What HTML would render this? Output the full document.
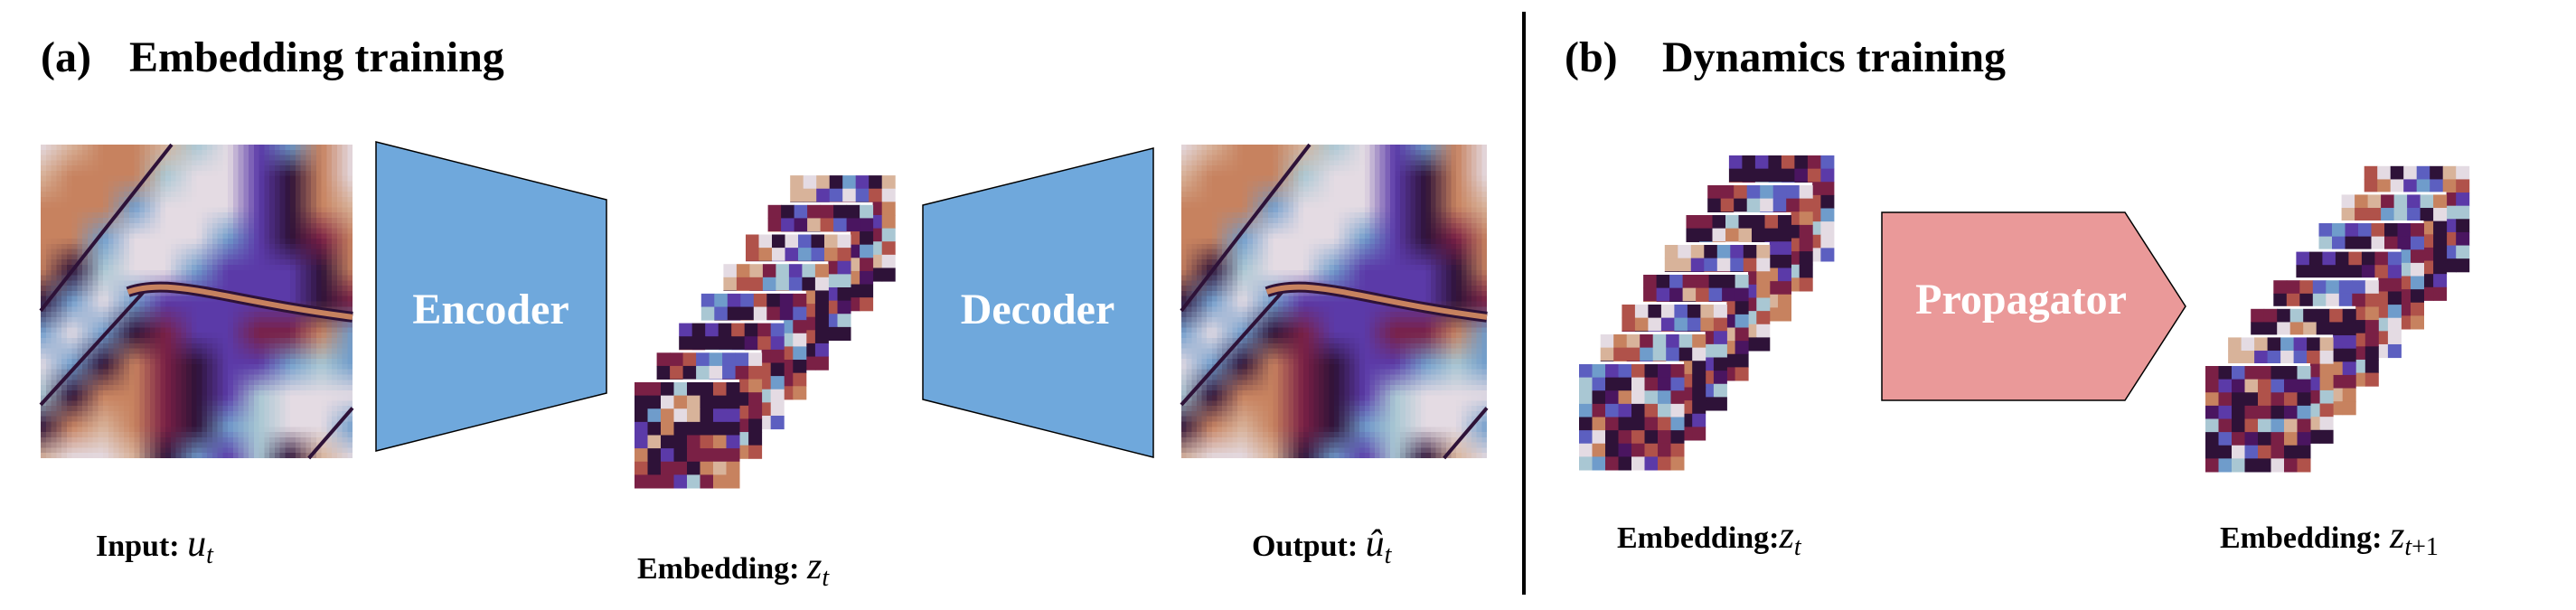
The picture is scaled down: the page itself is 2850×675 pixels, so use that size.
<!DOCTYPE html>
<html><head><meta charset="utf-8"><style>
html,body{margin:0;padding:0;background:#fff;}
#root{position:relative;width:2850px;height:675px;overflow:hidden;background:#fff;font-family:"Liberation Serif",serif;}
canvas.field{position:absolute;image-rendering:pixelated;}
svg{position:absolute;left:0;top:0;}
</style></head><body>
<div id="root">
<canvas id="fieldIn" class="field" width="60" height="60" style="left:45px;top:160px;width:345px;height:347px"></canvas>
<canvas id="fieldOut" class="field" width="60" height="60" style="left:1307px;top:160px;width:338px;height:347px"></canvas>
<svg id="svg" width="2850" height="675" xmlns="http://www.w3.org/2000/svg">
  <g id="overlays"></g>
  <text x="45" y="79" font-size="48" font-weight="bold">(a)</text>
  <text x="143" y="79" font-size="48" font-weight="bold">Embedding training</text>
  <text x="1731" y="79" font-size="48" font-weight="bold">(b)</text>
  <text x="1839" y="79" font-size="48" font-weight="bold">Dynamics training</text>
  <polygon points="416,157 671,221 671,435 416,499" fill="#6fa8dc" stroke="#000" stroke-width="1.5"/>
  <text x="543" y="358" font-size="48" font-weight="bold" fill="#fff" text-anchor="middle">Encoder</text>
  <polygon points="1021,227 1276,164 1276,506 1021,442" fill="#6fa8dc" stroke="#000" stroke-width="1.5"/>
  <text x="1148" y="358" font-size="48" font-weight="bold" fill="#fff" text-anchor="middle">Decoder</text>
  <line x1="1686" y1="13" x2="1686" y2="658" stroke="#000" stroke-width="4"/>
  <polygon points="2082,235 2351,235 2418,339 2351,443 2082,443" fill="#ea9999" stroke="#000" stroke-width="1.5"/>
  <text x="2236" y="347" font-size="48" font-weight="bold" fill="#fff" text-anchor="middle">Propagator</text>
  <g id="stacks"></g>
  <text x="106" y="615" font-size="34" font-weight="bold">Input: <tspan font-size="42" font-weight="normal" font-style="italic">u</tspan><tspan font-size="28" font-weight="normal" font-style="italic" dy="8">t</tspan></text>
  <text x="705" y="640" font-size="34" font-weight="bold">Embedding: <tspan font-size="42" font-weight="normal" font-style="italic">z</tspan><tspan font-size="28" font-weight="normal" font-style="italic" dy="8">t</tspan></text>
  <text x="1385" y="615" font-size="34" font-weight="bold">Output: <tspan font-size="42" font-weight="normal" font-style="italic">û</tspan><tspan font-size="28" font-weight="normal" font-style="italic" dy="8">t</tspan></text>
  <text x="1789" y="606" font-size="34" font-weight="bold">Embedding:<tspan font-size="42" font-weight="normal" font-style="italic">z</tspan><tspan font-size="28" font-weight="normal" font-style="italic" dy="8">t</tspan></text>
  <text x="2456" y="606" font-size="34" font-weight="bold">Embedding: <tspan font-size="42" font-weight="normal" font-style="italic">z</tspan><tspan font-size="28" font-weight="normal" font-style="italic" dy="8">t</tspan><tspan font-size="28" font-weight="normal" font-style="normal">+1</tspan></text>
</svg>
</div>
<script>
const palette = {D:"#2e1238",M:"#7a2045",R:"#b0524a",O:"#c7825f",L:"#d8b39a",W:"#e4dbe3",b:"#a9c7d3",B:"#6f9ccb",P:"#5b3aa8",I:"#5c5fc0",K:"#4a1560"};
const fieldRows = [
  "WLOOLbWPBOW",
  "LOOObWWPDOW",
  "OOOBWWWPDOL",
  "OOBWWWBPDMO",
  "ODbWWBPPPDO",
  "DBWBPPPPPDM",
  "BWBDMPPMMOB",
  "WBDOMDPPBbB",
  "bDOOMDPbWWW",
  "DOLOMDBbWWB",
  "LWWLDBPbDLW"
];
const cardPatterns = [
  "MMDbDDRDDDWOLDDDDBOWLDPPPDODDDDDPLDDMROPODPDMMMMRDMMDOLOMMMPbMOO",
  "MMRIBIIWDRDbWIMRDDWbIMRODMDDPRDMIbMDDMRMbWRODbMDMROWOMbDDMMRDOOR",
  "PDPDRDMIDDDDDKRPRMbBIDMMMDPMDRRDbPIDOWRBMBDWRMbWIDMDDRRWbOMbPDWI",
  "IBPIRDKMbIDDWMKIbDKOWbBMBMIPDRbWDOMDDMRBIWDMRDMDWODKMRMRbBMDWPRO",
  "WOLMbPbOLRRBbIDWDOMPRbODMMDRbDRDBRIMDOMDbRWOPMRDbDDMDBDPMRLODRMM",
  "RWDWIDLWROWPBIORMDPRKDMPDOMMRPbbBDIPDLPDMIDBWDRKMDOMDKIbLPRDDRDD",
  "MDIMMDDbMPKLRIKKOMDDRMRDKPDMMDKBbMDRbBLMDIMKDMOKDDWIRMDDMBbDDWMR",
  "LWLDBPDLLLPIWIRWDDKRMDMOMBDBRMPOPRMDIMMbMKIDRWbRDDMDMRLWDDPPMMDD"
];
const stackFronts = [[702,423,24.6,-32.7],[1747,403,23.7,-33],[2440,405,25.1,-31.6]];
const cardW = 116, cardH = 117;

function hex(c){return [parseInt(c.substr(1,2),16),parseInt(c.substr(3,2),16),parseInt(c.substr(5,2),16)];}
function drawField(id){
  const c = document.getElementById(id);
  const ctx = c.getContext('2d');
  const N = 60, G = fieldRows.length-1;
  const img = ctx.createImageData(N,N);
  for(let y=0;y<N;y++) for(let x=0;x<N;x++){
    const fx = (x+0.5)/N*G, fy = (y+0.5)/N*G;
    const x0 = Math.min(G-1,Math.floor(fx)), y0 = Math.min(G-1,Math.floor(fy));
    const tx = fx-x0, ty = fy-y0;
    const c00=hex(palette[fieldRows[y0][x0]]), c10=hex(palette[fieldRows[y0][x0+1]]);
    const c01=hex(palette[fieldRows[y0+1][x0]]), c11=hex(palette[fieldRows[y0+1][x0+1]]);
    const i=(y*N+x)*4;
    for(let k=0;k<3;k++){
      img.data[i+k]=(c00[k]*(1-tx)+c10[k]*tx)*(1-ty)+(c01[k]*(1-tx)+c11[k]*tx)*ty;
    }
    img.data[i+3]=255;
  }
  ctx.putImageData(img,0,0);
}
drawField('fieldIn'); drawField('fieldOut');

const NS = "http://www.w3.org/2000/svg";
const ov = document.getElementById('overlays');
ov.parentNode.appendChild(ov);
function fieldOverlay(x0,y0,w,h,name){
  const g = document.createElementNS(NS,'g');
  
  
  const P = (u,v)=>(x0+u*w)+","+(y0+v*h);
  const lines = [
    ["M"+P(0,0.53)+" L"+P(0.42,0),"#2e1238",4],
    ["M"+P(0,0.83)+" L"+P(0.33,0.47),"#2e1238",4],
    ["M"+P(0.86,1)+" L"+P(1,0.84),"#2e1238",4],
    ["M"+P(0.28,0.47)+" C"+P(0.42,0.42)+" "+P(0.6,0.5)+" "+P(1,0.55),"#2e1238",12],
    ["M"+P(0.28,0.47)+" C"+P(0.42,0.42)+" "+P(0.6,0.5)+" "+P(1,0.55),"#c7825f",6]
  ];
  lines.forEach(l=>{
    const p = document.createElementNS(NS,'path');
    p.setAttribute('d',l[0]); p.setAttribute('stroke',l[1]); p.setAttribute('stroke-width',l[2]); p.setAttribute('fill','none');
    
    
    g.appendChild(p);
  });
  ov.appendChild(g);
}
fieldOverlay(45,160,345,347,'input-field-features');
fieldOverlay(1307,160,338,347,'output-field-features');

const stacks = document.getElementById('stacks');
const stackNames = ['embedding-stack-a','embedding-stack-b-input','embedding-stack-b-output'];
stackFronts.forEach((s,si)=>{
  const g = document.createElementNS(NS,'g');
  
  
  for(let i=7;i>=0;i--){
    const cx = s[0]+i*s[2], cy = s[1]+i*s[3];
    const pat = cardPatterns[(i+si*3)%8];
    const card = document.createElementNS(NS,'g');
    
    
    const bg = document.createElementNS(NS,'rect');
    bg.setAttribute('x',cx-3); bg.setAttribute('y',cy-3); bg.setAttribute('width',cardW+3); bg.setAttribute('height',cardH+3); bg.setAttribute('fill','#fff');
    card.appendChild(bg);
    const cw = cardW/8, ch = cardH/8;
    for(let r=0;r<8;r++) for(let k=0;k<8;k++){
      const rc = document.createElementNS(NS,'rect');
      rc.setAttribute('x',cx+k*cw); rc.setAttribute('y',cy+r*ch);
      rc.setAttribute('width',cw+0.5); rc.setAttribute('height',ch+0.5);
      rc.setAttribute('fill',palette[pat[r*8+k]]);
      card.appendChild(rc);
    }
    g.appendChild(card);
  }
  stacks.appendChild(g);
});
</script>
</body></html>
